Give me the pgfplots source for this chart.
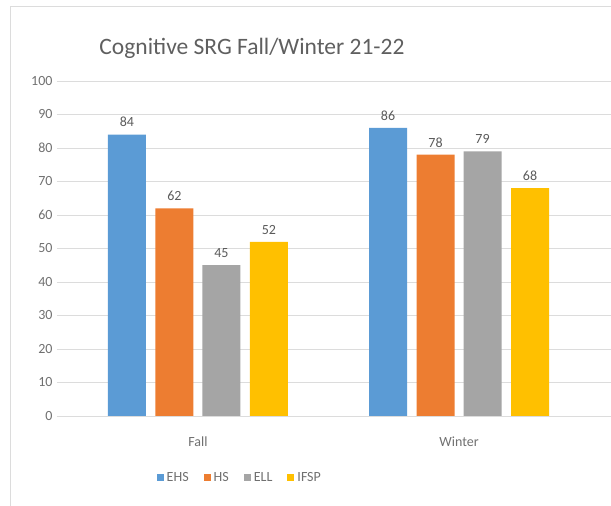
\documentclass[border=0pt]{standalone}
\usepackage{fontspec}
\setmainfont{Carlito}
\usepackage{pgfplots}
\pgfplotsset{compat=1.18}
\definecolor{cEHS}{HTML}{5B9BD5}
\definecolor{cHS}{HTML}{ED7D31}
\definecolor{cELL}{HTML}{A5A5A5}
\definecolor{cIFSP}{HTML}{FFC000}
\definecolor{txt}{HTML}{707070}
\definecolor{grd}{HTML}{DCDCDC}
\begin{document}
\begin{tikzpicture}
\useasboundingbox (0pt,0pt) rectangle (611pt,506pt);
% chart frame (cropped on the right)
\draw[grd, line width=1pt] (611pt,499pt) -- (10pt,499pt) -- (10pt,0pt);
\node[font=\fontsize{23.5}{26}\selectfont, text=txt!85!black] at (252pt,458pt) {Cognitive SRG Fall/Winter 21-22};
\begin{axis}[
    at={(57pt,90pt)}, anchor=south west,
    scale only axis, width=554pt, height=335pt,
    xmin=-0.54, xmax=1.582, ymin=0, ymax=100,
    ybar, bar width=38pt,
    xtick={0,1}, xticklabels={Fall,Winter},
    ytick={0,10,...,100},
    ymajorgrids, grid style={grd, line width=0.8pt},
    axis line style={draw=none},
    tick style={draw=none},
    tick label style={font=\fontsize{14}{16}\selectfont, text=txt},
    yticklabel style={xshift=-1pt},
    xticklabel style={yshift=-13pt},
    /pgf/number format/assume math mode=true,
    nodes near coords,
    every node near coord/.append style={font=\fontsize{14}{16}\selectfont, text=txt!80!black, yshift=4pt},
    legend columns=4,
    legend style={at={(0.33,-0.185)}, anchor=center, draw=none, fill=none,
        font=\fontsize{14}{16}\selectfont, text=txt,
        /tikz/every odd column/.append style={column sep=1pt},
        /tikz/every even column/.append style={column sep=13pt}},
    legend image code/.code={\fill[#1] (0pt,-3.5pt) rectangle (7pt,3.5pt);},
]
\addplot[fill=cEHS, draw=none, bar shift=-71pt] coordinates {(0,84) (1,86)};
\addlegendentry{EHS}
\addplot[fill=cHS, draw=none, bar shift=-23.5pt] coordinates {(0,62) (1,78)};
\addlegendentry{HS}
\addplot[fill=cELL, draw=none, bar shift=23.5pt] coordinates {(0,45) (1,79)};
\addlegendentry{ELL}
\addplot[fill=cIFSP, draw=none, bar shift=71pt] coordinates {(0,52) (1,68)};
\addlegendentry{IFSP}
\end{axis}
\end{tikzpicture}
\end{document}
